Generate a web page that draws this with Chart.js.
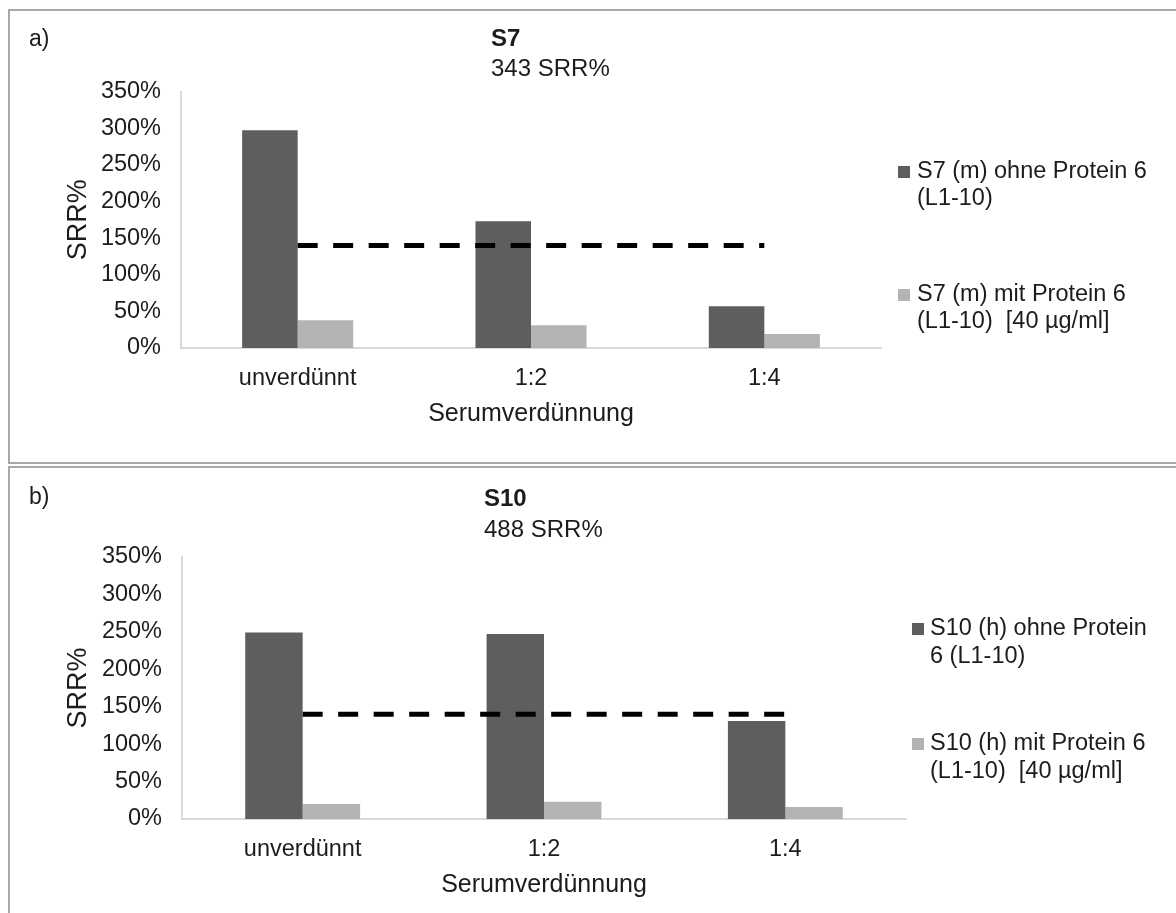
<!DOCTYPE html>
<html lang="de">
<head>
<meta charset="utf-8">
<title>SRR% nach Serumverdünnung</title>
<script src="https://cdn.jsdelivr.net/npm/chart.js@4.4.1/dist/chart.umd.min.js"></script>
<style>
  html, body { margin: 0; padding: 0; background: #fff; width: 1176px; height: 913px; overflow: hidden; }
  .panel { position: absolute; left: 8px; width: 1200px; border: 2px solid #a8a8a8; box-sizing: border-box; }
  #panelA { top: 9px; height: 455px; }
  #panelB { top: 466px; height: 500px; }
  canvas { position: absolute; left: 0; }
  #chartA { top: 0; }
  #chartB { top: 464px; }
</style>
</head>
<body>
<div class="panel" id="panelA"></div>
<div class="panel" id="panelB"></div>
<canvas id="chartA" width="1176" height="464"></canvas>
<canvas id="chartB" width="1176" height="449"></canvas>
<script>
// Serum dilution steps
const categories = ['unverdünnt', '1:2', '1:4'];

// Panel a) – S7
const s7Ohne = [297, 173, 57];
const s7Mit = [38, 31, 19];
const s7Legend = [['S7 (m) ohne Protein 6', '(L1-10)'], ['S7 (m) mit Protein 6', '(L1-10)  [40 µg/ml]']];
const s7Title = 'S7';
const s7Subtitle = '343 SRR%';

// Panel b) – S10
const s10Ohne = [249, 247, 131];
const s10Mit = [20, 23, 16];
const s10Legend = [['S10 (h) ohne Protein', '6 (L1-10)'], ['S10 (h) mit Protein 6', '(L1-10)  [40 µg/ml]']];
const s10Title = 'S10';
const s10Subtitle = '488 SRR%';

// Threshold line (dashed)
const cutoff = [140, 140, 140];

// Axis texts and range
const xTitle = 'Serumverdünnung';
const yTitle = 'SRR%';
const yMax = 350;
const yStep = 50;

const FONT = '"Liberation Sans", Arial, sans-serif';
const TEXT = '#1c1c1c';
const DARK = '#5e5e5e';
const LIGHT = '#b3b3b3';
const AXIS = '#d9d9d9';

Chart.defaults.font.family = FONT;
Chart.defaults.color = TEXT;

// Draws panel tag, left-aligned two-line title and the wrapped legend
const panelText = {
  id: 'panelText',
  afterDraw(chart, args, o) {
    const ctx = chart.ctx;
    ctx.save();
    ctx.textBaseline = 'middle';
    ctx.textAlign = 'left';
    ctx.fillStyle = TEXT;
    ctx.font = '23px ' + FONT;
    ctx.fillText(o.tag, o.tagX, o.tagY);
    ctx.font = 'bold 24px ' + FONT;
    ctx.fillText(o.title, o.titleX, o.titleY);
    ctx.font = '24px ' + FONT;
    ctx.fillText(o.subtitle, o.titleX, o.subtitleY);

    ctx.font = '23.5px ' + FONT;
    o.legend.forEach((lines, i) => {
      const ds = chart.data.datasets[i];
      const y0 = o.legendY[i];
      ctx.fillStyle = ds.backgroundColor;
      ctx.fillRect(o.boxX, y0 - 6, 12, 12);
      ctx.fillStyle = TEXT;
      lines.forEach((line, k) => ctx.fillText(line, o.textX, y0 + k * o.lineGap));
    });
    ctx.restore();
  }
};

function makeChart(id, ohne, mit, legend, pad, yWidth, text) {
  return new Chart(document.getElementById(id), {
    type: 'bar',
    data: {
      labels: categories,
      datasets: [
        { label: legend[0].join(' '), data: ohne, backgroundColor: DARK, order: 1 },
        { label: legend[1].join(' '), data: mit, backgroundColor: LIGHT, order: 1 },
        {
          type: 'line', label: 'Grenzwert', data: cutoff, order: 0,
          borderColor: '#000', borderWidth: 5, borderDash: [20, 15.5],
          pointRadius: 0, fill: false, tension: 0
        }
      ]
    },
    options: {
      responsive: false,
      animation: false,
      events: [],
      datasets: { bar: { barPercentage: 1, categoryPercentage: 0.476 } },
      layout: { padding: pad },
      plugins: {
        legend: { display: false },
        tooltip: { enabled: false },
        title: { display: false },
        panelText: Object.assign({ legend: legend }, text)
      },
      scales: {
        x: {
          grid: { display: false, drawTicks: false },
          border: { display: true, color: AXIS, width: 2 },
          ticks: { color: TEXT, font: { size: 23.5 }, padding: 16, maxRotation: 0, autoSkip: false },
          title: { display: true, text: xTitle, color: TEXT, font: { size: 25 }, padding: { top: 0, bottom: 0 } },
          afterFit: s => { s.height = 81; }
        },
        y: {
          min: 0, max: yMax,
          grid: { display: false, drawTicks: false },
          border: { display: true, color: AXIS, width: 2 },
          ticks: { stepSize: yStep, color: TEXT, font: { size: 23.5 }, padding: 20, callback: v => v + '%' },
          title: { display: true, text: yTitle, color: TEXT, font: { size: 27 }, padding: { top: 52, bottom: 0 } },
          afterFit: s => { s.width = yWidth; }
        }
      }
    },
    plugins: [panelText]
  });
}

makeChart('chartA', s7Ohne, s7Mit, s7Legend,
  { left: 10, right: 295, top: 91.5, bottom: 35 }, 171,
  { tag: 'a)', tagX: 29, tagY: 40, title: s7Title, subtitle: s7Subtitle, titleX: 491, titleY: 39, subtitleY: 69,
    boxX: 898, textX: 917, legendY: [172, 295], lineGap: 27 });

makeChart('chartB', s10Ohne, s10Mit, s10Legend,
  { left: 10, right: 270, top: 93, bottom: 13 }, 172,
  { tag: 'b)', tagX: 29, tagY: 34, title: s10Title, subtitle: s10Subtitle, titleX: 484, titleY: 35, subtitleY: 66,
    boxX: 912, textX: 930, legendY: [165, 280], lineGap: 28 });
</script>
</body>
</html>
